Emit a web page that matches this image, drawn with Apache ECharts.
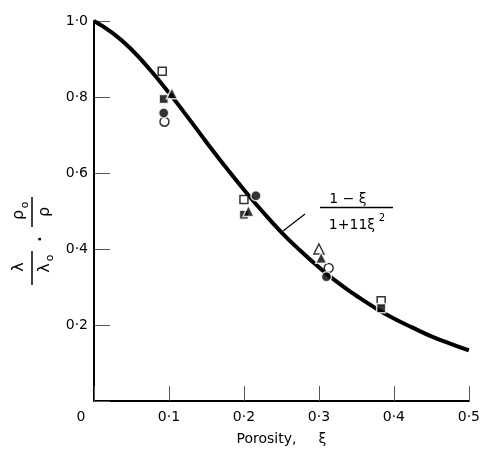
<!DOCTYPE html>
<html>
<head>
<meta charset="utf-8">
<script src="https://cdn.jsdelivr.net/npm/echarts@6/dist/echarts.min.js"></script>
<style>
  html, body { margin: 0; padding: 0; background: #fff; }
  #chart { width: 483px; height: 467px; }
</style>
</head>
<body>
<div id="chart"></div>
<script>
// curve (1 - xi) / (1 + 11 xi^2)
const curveX = [0, 0.025, 0.05, 0.075, 0.1, 0.125, 0.15, 0.175, 0.2, 0.225, 0.25,
  0.275, 0.3, 0.325, 0.35, 0.375, 0.4, 0.425, 0.45, 0.475, 0.5];
const curveY = [1.0, 0.968, 0.925, 0.871, 0.811, 0.747, 0.681, 0.617, 0.556, 0.498, 0.444,
  0.396, 0.352, 0.312, 0.277, 0.245, 0.217, 0.193, 0.170, 0.151, 0.133];

// measured points, [porosity, ratio]
const openCircle = [[0.094, 0.735], [0.313, 0.35]];
const filledCircle = [[0.093, 0.758], [0.216, 0.54], [0.31, 0.327]];
const openSquare = [[0.091, 0.868], [0.2, 0.53], [0.383, 0.264]];
const filledSquare = [[0.093, 0.795], [0.2, 0.49], [0.383, 0.244]];
const openTriangle = [[0.30, 0.40]];
const filledTriangle = [[0.104, 0.81], [0.206, 0.50], [0.303, 0.377]];

const xTickLabels = ['0', '0·1', '0·2', '0·3', '0·4', '0·5'];
const yTickLabels = ['', '0·2', '0·4', '0·6', '0·8', '1·0'];

const FONT = 'DejaVu Sans';

const chart = echarts.init(document.getElementById('chart'), null, { renderer: 'canvas' });

function markers(name, data, symbol, size, filled) {
  return {
    name: name,
    type: 'scatter',
    data: data,
    symbol: symbol,
    symbolSize: size,
    z: filled ? 4 : 3,
    itemStyle: {
      color: filled ? '#000' : '#fff',
      borderColor: filled ? '#fff' : '#000',
      borderWidth: 1.5
    }
  };
}

const curve = curveX.map((x, i) => [x, curveY[i]]);

const option = {
  animation: false,
  backgroundColor: '#fff',
  grid: { left: 94, right: 11, top: 21, bottom: 66 },
  xAxis: {
    type: 'value',
    min: 0, max: 0.5, interval: 0.1,
    splitLine: { show: false },
    axisLine: { lineStyle: { color: '#000', width: 2 } },
    axisTick: { inside: true, length: 15, lineStyle: { color: '#555', width: 1 } },
    axisLabel: {
      margin: 9,
      color: '#000',
      fontFamily: FONT,
      fontSize: 14,
      formatter: (v, i) => i === 0 ? '{z|' + xTickLabels[0] + '}' : xTickLabels[i],
      rich: { z: { fontFamily: FONT, fontSize: 14, color: '#000', padding: [0, 26, 0, 0] } }
    },
    name: 'Porosity,     ξ',
    nameLocation: 'middle',
    nameGap: 31,
    nameTextStyle: { color: '#000', fontFamily: FONT, fontSize: 14 }
  },
  yAxis: {
    type: 'value',
    min: 0, max: 1, interval: 0.2,
    splitLine: { show: false },
    axisLine: { lineStyle: { color: '#000', width: 2 } },
    axisTick: { inside: true, length: 16, lineStyle: { color: '#555', width: 1 } },
    axisLabel: {
      margin: 6,
      color: '#000',
      fontFamily: FONT,
      fontSize: 14,
      formatter: (v, i) => yTickLabels[i]
    }
  },
  series: [
    {
      name: 'model',
      type: 'line',
      data: curve,
      smooth: true,
      showSymbol: false,
      z: 2,
      lineStyle: { color: '#000', width: 4 }
    },
    markers('openCircle', openCircle, 'circle', 9, false),
    markers('filledCircle', filledCircle, 'circle', 10, true),
    markers('openSquare', openSquare, 'rect', 8, false),
    markers('filledSquare', filledSquare, 'rect', 9, true),
    markers('openTriangle', openTriangle, 'triangle', 10, false),
    markers('filledTriangle', filledTriangle, 'triangle', 11, true)
  ],
  graphic: [
    // y axis name, rotated: lambda/lambda0 , rho0/rho
    {
      type: 'group',
      x: 31, y: 239,
      rotation: Math.PI / 2,
      children: [
        { type: 'text', x: -28, y: -12, style: { text: 'λ', fill: '#000', font: '16px ' + FONT, align: 'center', verticalAlign: 'middle' } },
        { type: 'line', shape: { x1: -46, y1: 1, x2: -12, y2: 1 }, style: { stroke: '#000', lineWidth: 1.5 } },
        { type: 'text', x: -29, y: 14, style: { text: 'λ', fill: '#000', font: '16px ' + FONT, align: 'center', verticalAlign: 'middle' } },
        { type: 'text', x: -19, y: 19, style: { text: 'o', fill: '#000', font: '11px ' + FONT, align: 'center', verticalAlign: 'middle' } },
        { type: 'text', x: 0, y: 6, style: { text: '.', fill: '#000', font: 'bold 14px ' + FONT, align: 'center', verticalAlign: 'middle' } },
        { type: 'text', x: 24, y: -12, style: { text: 'ρ', fill: '#000', font: '16px ' + FONT, align: 'center', verticalAlign: 'middle' } },
        { type: 'text', x: 34, y: -6, style: { text: 'o', fill: '#000', font: '11px ' + FONT, align: 'center', verticalAlign: 'middle' } },
        { type: 'line', shape: { x1: 12, y1: 1, x2: 42, y2: 1 }, style: { stroke: '#000', lineWidth: 1.5 } },
        { type: 'text', x: 27, y: 14, style: { text: 'ρ', fill: '#000', font: '16px ' + FONT, align: 'center', verticalAlign: 'middle' } }
      ]
    },
    // formula label with leader line
    { type: 'line', shape: { x1: 283, y1: 231, x2: 305, y2: 214 }, style: { stroke: '#000', lineWidth: 1.2 }, z: 10 },
    { type: 'text', x: 348, y: 199, style: { text: '1 − ξ', fill: '#000', font: '14px ' + FONT, align: 'center', verticalAlign: 'middle' }, z: 10 },
    { type: 'line', shape: { x1: 320, y1: 207.5, x2: 393, y2: 207.5 }, style: { stroke: '#000', lineWidth: 1.5 }, z: 10 },
    { type: 'text', x: 352, y: 225, style: { text: '1+11ξ', fill: '#000', font: '14px ' + FONT, align: 'center', verticalAlign: 'middle' }, z: 10 },
    { type: 'text', x: 382, y: 218, style: { text: '2', fill: '#000', font: '10px ' + FONT, align: 'center', verticalAlign: 'middle' }, z: 10 }
  ]
};

chart.setOption(option);
</script>
</body>
</html>
